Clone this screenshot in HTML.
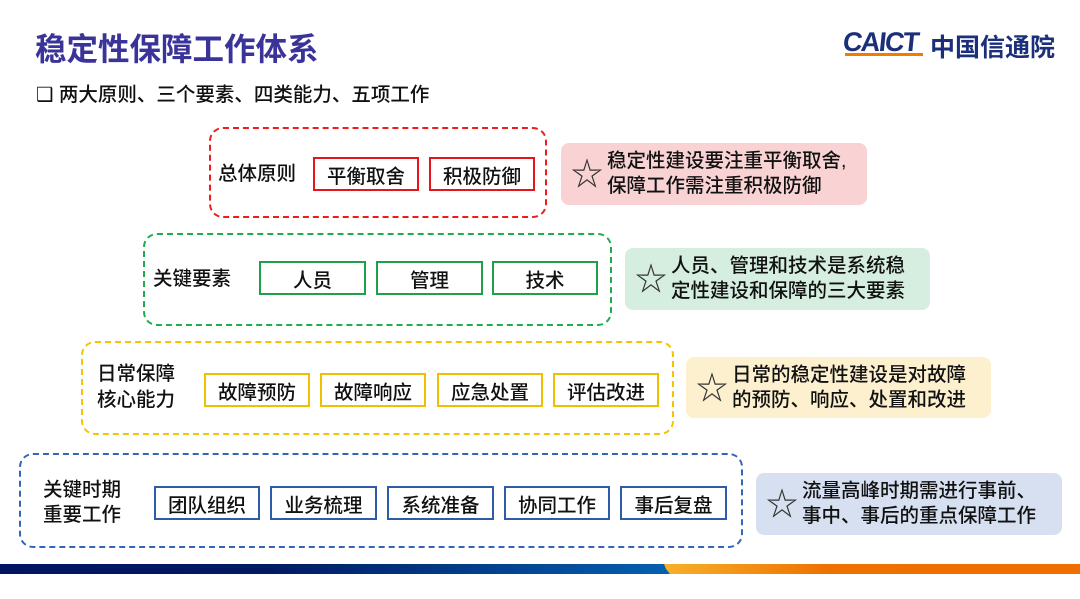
<!DOCTYPE html>
<html><head><meta charset="utf-8"><style>
body{margin:0;width:1080px;height:599px;background:#fff;position:relative;overflow:hidden;font-family:"Liberation Sans","Noto Sans CJK SC",sans-serif;color:#111;font-weight:500}
.a{position:absolute;box-sizing:border-box}
.d{border-radius:14px;border-width:2.5px;border-style:dashed}
.b{border-width:2.5px;border-style:solid;display:flex;align-items:center;justify-content:center;font-size:19.5px;height:34px;top:0}
.l{font-size:19.5px;line-height:24px}
.n{border-radius:8px;font-size:19.5px;line-height:25px;padding-left:46px;display:flex;flex-direction:column;justify-content:center;white-space:nowrap}
.s{position:absolute;left:10px;top:50%;transform:translateY(-50%);font-size:32px;color:#333;line-height:32px;font-weight:normal}
</style></head><body>
<div class="a" style="left:35px;top:24px;font-size:31.5px;font-weight:bold;color:#3a3398">稳定性保障工作体系</div>
<div class="a" style="left:843px;top:27px;font-size:27px;font-weight:bold;color:#1c2f7a;letter-spacing:-1.5px;transform:skewX(-6deg)">CAICT</div>
<div class="a" style="left:845px;top:53px;width:78px;height:3px;background:#f07c00"></div>
<div class="a" style="left:930px;top:28px;font-size:25px;font-weight:bold;color:#1c2f7a">中国信通院</div>
<div class="a" style="left:36px;top:78px;font-size:19.5px">❑ 两大原则、三个要素、四类能力、五项工作</div>

<div class="a d" style="left:209px;top:127px;width:338px;height:91px;border-color:#f01c1c"></div>
<div class="a l" style="left:218px;top:162px">总体原则</div>
<div class="a b" style="left:313px;top:157px;width:106px;border-color:#e8141c">平衡取舍</div>
<div class="a b" style="left:429px;top:157px;width:106px;border-color:#e8141c">积极防御</div>
<div class="a n" style="left:561px;top:143px;width:306px;height:62px;background:#f9d3d3"><span class="s">☆</span><div>稳定性建设要注重平衡取舍,</div><div>保障工作需注重积极防御</div></div>

<div class="a d" style="left:143px;top:233px;width:469px;height:93px;border-color:#1fac4f"></div>
<div class="a l" style="left:153px;top:267px">关键要素</div>
<div class="a b" style="left:259px;top:261px;width:107px;border-color:#1fa04a">人员</div>
<div class="a b" style="left:376px;top:261px;width:107px;border-color:#1fa04a">管理</div>
<div class="a b" style="left:492px;top:261px;width:106px;border-color:#1fa04a">技术</div>
<div class="a n" style="left:625px;top:248px;width:305px;height:62px;background:#d5eedf"><span class="s">☆</span><div>人员、管理和技术是系统稳</div><div>定性建设和保障的三大要素</div></div>

<div class="a d" style="left:81px;top:341px;width:593px;height:94px;border-color:#f5c400"></div>
<div class="a l" style="left:97px;top:361px;line-height:26px">日常保障<br>核心能力</div>
<div class="a b" style="left:204px;top:373px;width:106px;border-color:#f0c000">故障预防</div>
<div class="a b" style="left:320px;top:373px;width:106px;border-color:#f0c000">故障响应</div>
<div class="a b" style="left:437px;top:373px;width:106px;border-color:#f0c000">应急处置</div>
<div class="a b" style="left:553px;top:373px;width:106px;border-color:#f0c000">评估改进</div>
<div class="a n" style="left:686px;top:357px;width:305px;height:61px;background:#fdf0cf"><span class="s">☆</span><div>日常的稳定性建设是对故障</div><div>的预防、响应、处置和改进</div></div>

<div class="a d" style="left:19px;top:453px;width:724px;height:95px;border-color:#3565b8"></div>
<div class="a l" style="left:43px;top:478px;line-height:25px">关键时期<br>重要工作</div>
<div class="a b" style="left:154px;top:486px;width:106px;border-color:#2e5ca8">团队组织</div>
<div class="a b" style="left:270px;top:486px;width:107px;border-color:#2e5ca8">业务梳理</div>
<div class="a b" style="left:387px;top:486px;width:107px;border-color:#2e5ca8">系统准备</div>
<div class="a b" style="left:504px;top:486px;width:106px;border-color:#2e5ca8">协同工作</div>
<div class="a b" style="left:620px;top:486px;width:107px;border-color:#2e5ca8">事后复盘</div>
<div class="a n" style="left:756px;top:473px;width:306px;height:62px;background:#d6e0f0"><span class="s">☆</span><div>流量高峰时期需进行事前、</div><div>事中、事后的重点保障工作</div></div>

<div class="a" style="left:0;top:564px;width:670px;height:10px;background:linear-gradient(90deg,#001560 0%,#001a62 40%,#0560b0 100%);clip-path:polygon(0 0,665px 0,670px 100%,0 100%)"></div>
<div class="a" style="left:664px;top:564px;width:416px;height:10px;background:linear-gradient(90deg,#f7b02a,#ee7000 40%,#ee6e00);clip-path:polygon(0 0,100% 0,100% 100%,6px 100%,2px 50%)"></div>
</body></html>
